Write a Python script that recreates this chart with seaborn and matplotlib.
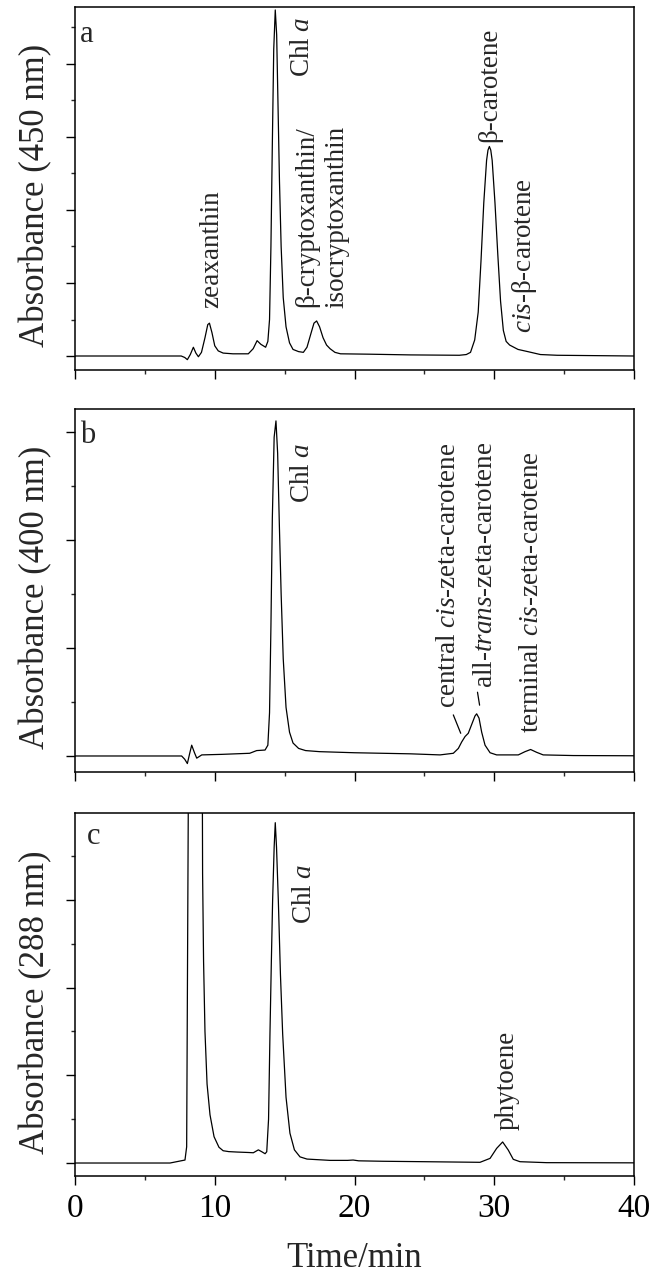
"""HPLC chromatograms of carotenoid extracts at three detection wavelengths."""
import matplotlib
matplotlib.use("Agg")
import matplotlib.pyplot as plt
import seaborn as sns
from matplotlib.ticker import MultipleLocator

# ── Data ─────────────────────────────────────────────────────────────────────

# (a) 450 nm
time_a = [0.0, 7.6, 7.85, 8.04, 8.25, 8.47, 8.65, 8.83, 9.05, 9.3, 9.5, 9.62,
          9.8, 10.0, 10.25, 10.6, 11.3, 12.4, 12.75, 13.03, 13.3, 13.64, 13.8,
          13.92, 14.02, 14.12, 14.22, 14.33, 14.43, 14.53, 14.63, 14.75, 14.9,
          15.1, 15.35, 15.6, 16.0, 16.34, 16.6, 16.9, 17.1, 17.29, 17.5, 17.75,
          18.0, 18.25, 18.6, 19.0, 21.0, 24.0, 27.5, 28.0, 28.3, 28.6, 28.85,
          29.05, 29.25, 29.45, 29.55, 29.65, 29.75, 29.85, 30.05, 30.25, 30.45,
          30.65, 30.85, 31.1, 31.3, 31.7, 32.4, 33.3, 34.5, 40.0]
abs_a = [0, 0, -2, -5, 2, 12, 4, -1, 5, 25, 43, 45,
         32, 14, 7, 4, 3, 3, 10, 21, 16, 12, 20,
         50, 150, 290, 420, 474, 440, 340, 240, 150, 80,
         40, 18, 9, 6, 5, 12, 32, 45, 48, 40, 25,
         15, 10, 5, 3, 2.5, 1.5, 1, 2, 5, 22, 60,
         130, 210, 268, 282, 287, 282, 268, 210, 140, 75,
         35, 20, 15, 13, 9, 6, 2, 1, 0]

# (b) 400 nm
time_b = [0.0, 7.63, 7.85, 8.04, 8.2, 8.35, 8.55, 8.71, 9.07, 10.5, 12.5, 13.0,
          13.6, 13.8, 13.92, 14.02, 14.12, 14.25, 14.38, 14.5, 14.62, 14.75,
          14.9, 15.1, 15.35, 15.6, 16.0, 16.5, 17.5, 20.0, 24.0, 26.12, 27.07,
          27.43, 27.67, 27.91, 28.14, 28.38, 28.62, 28.74, 28.91, 29.1, 29.34,
          29.7, 30.17, 31.72, 32.2, 32.6, 33.03, 33.5, 35.66, 40.0]
abs_b = [0, 0, -3, -7, 2, 10, 3, -2, 1, 1.5, 2.5, 5,
         5.5, 10, 40, 120, 220, 295, 310, 280, 215, 150,
         90, 45, 22, 12, 7, 5, 4, 3, 2, 1, 2.5,
         7, 13, 18, 21, 29, 37, 39, 35, 22, 10,
         3, 1, 1, 4, 6, 3.4, 1, 0.4, 0.2]

# (c) 288 nm
time_c = [0.0, 6.8, 7.87, 7.99, 8.11, 8.3, 8.6, 8.9, 9.08, 9.13, 9.2, 9.3,
          9.45, 9.66, 9.95, 10.3, 10.6, 11.0, 11.6, 12.4, 12.76, 13.12, 13.35,
          13.6, 13.72, 13.85, 13.95, 14.05, 14.14, 14.25, 14.33, 14.42, 14.55,
          14.7, 14.86, 15.1, 15.38, 15.7, 16.1, 16.6, 18.25, 19.5, 19.9, 20.3,
          22.0, 25.0, 28.98, 29.7, 30.17, 30.6, 31.0, 31.36, 31.84, 33.75, 40.0]
abs_c = [0, 0, 3.4, 18.5, 420, 900, 1050, 1000, 600, 330, 230, 150,
         90, 55, 30, 18, 14, 13, 12.5, 12, 11.7, 15, 13,
         10.6, 12.8, 50, 147, 230, 299, 360, 388, 360, 299,
         215, 147, 75, 34, 15, 7, 4.5, 3, 3, 3.4, 2.5,
         2, 1.5, 0.8, 5.3, 16.7, 24, 14.8, 4.2, 1.5, 0.4, 0.2]

YLABELS = ["Absorbance (450 nm)", "Absorbance (400 nm)", "Absorbance (288 nm)"]
PANEL_LETTERS = ["a", "b", "c"]
YLIMS = [(-19.2, 478), (-14.8, 321), (-14.8, 399)]

# ── Style ────────────────────────────────────────────────────────────────────

sns.set_style("ticks")
plt.rcParams["font.family"] = ["Liberation Serif", "DejaVu Serif"]
plt.rcParams["mathtext.fontset"] = "custom"
plt.rcParams["mathtext.rm"] = "Liberation Serif"
plt.rcParams["mathtext.it"] = "Liberation Serif:italic"
plt.rcParams["axes.linewidth"] = 1.1

ANNOT_SIZE = 19.5

fig = plt.figure(figsize=(6.59, 12.83), dpi=100)
left, width, height = 0.1138, 0.8483, 0.2829
bottoms = [0.7116, 0.3983, 0.0834]
axes = [fig.add_axes([left, b, width, height]) for b in bottoms]

series = [(time_a, abs_a), (time_b, abs_b), (time_c, abs_c)]
letter_pos = [(0.009, 0.904), (0.009, 0.907), (0.021, 0.915)]

for i, ax in enumerate(axes):
    t, v = series[i]
    sns.lineplot(x=t, y=v, ax=ax, color="black", linewidth=0.9,
                 estimator=None, sort=False)
    ax.set_xlim(0, 40)
    ax.set_ylim(*YLIMS[i])
    ax.xaxis.set_major_locator(MultipleLocator(10))
    ax.xaxis.set_minor_locator(MultipleLocator(5))
    ax.yaxis.set_major_locator(MultipleLocator(100))
    ax.yaxis.set_minor_locator(MultipleLocator(50))
    ax.tick_params(which="major", direction="out", length=6.5, width=1.0,
                   top=False, right=False, labelleft=False, labelsize=24,
                   pad=6, colors="black")
    ax.tick_params(which="minor", direction="out", length=3.2, width=1.0,
                   top=False, right=False)
    if i < 2:
        ax.tick_params(labelbottom=False)
    ax.set_ylabel(YLABELS[i], fontsize=25)
    ax.yaxis.set_label_coords(-0.041, 0.48)
    ax.text(*letter_pos[i], PANEL_LETTERS[i], transform=ax.transAxes,
            fontsize=22, ha="left", va="baseline")
    for side in ["top", "right", "left", "bottom"]:
        ax.spines[side].set_visible(True)
        ax.spines[side].set_color("black")

axes[2].set_xlabel("Time/min", fontsize=25, labelpad=13)

# ── Peak labels ──────────────────────────────────────────────────────────────

ax_a, ax_b, ax_c = axes
kw = dict(rotation=90, ha="center", va="bottom", fontsize=ANNOT_SIZE)

ax_a.text(9.78, 66, "zeaxanthin", **kw)
ax_a.text(16.28, 382, "Chl $\\mathit{a}$", **kw)
ax_a.text(16.58, 67, "β-cryptoxanthin/", **kw)
ax_a.text(18.71, 66, "isocryptoxanthin", **kw)
ax_a.text(29.7, 293, "β-carotene", **kw)
ax_a.text(32.13, 31, "$\\mathit{cis}$-β-carotene", **kw)

ax_b.text(16.3, 234, "Chl $\\mathit{a}$", **kw)
ax_b.text(26.7, 44, "central $\\mathit{cis}$-zeta-carotene", **kw)
ax_b.text(29.34, 63, "all-$\\mathit{trans}$-zeta-carotene", **kw)
ax_b.text(32.68, 21, "terminal $\\mathit{cis}$-zeta-carotene", **kw)
ax_b.plot([27.07, 27.6], [38, 21], color="black", linewidth=0.9)
ax_b.plot([28.8, 28.95], [59, 47], color="black", linewidth=0.9)

ax_c.text(16.45, 273, "Chl $\\mathit{a}$", **kw)
ax_c.text(30.95, 37.5, "phytoene", **kw)

fig.savefig("out.png", dpi=100)
